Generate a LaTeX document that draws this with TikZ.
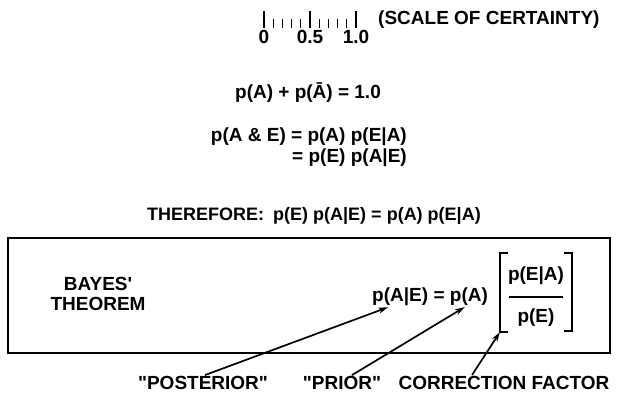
\documentclass[tikz,border=0pt]{standalone}
\usepackage{fontspec}
\setmainfont{Liberation Sans}
\usetikzlibrary{arrows.meta, positioning}

\begin{document}
\begin{tikzpicture}[x=1pt, y=-1pt,
	font=\fontsize{19}{20}\selectfont\bfseries,
	txt/.style={inner sep=1pt},
	raya/.style={line width=1.3pt},
	corchete/.style={line width=1.6pt},
	flecha/.style={line width=1.7pt, -{Stealth[length=10pt, width=6pt]}}]
	\useasboundingbox (0,0) rectangle (618,396);

	% escala de certeza
	\foreach \i in {0,...,10}{
		\coordinate (t\i) at (264+9.2*\i, 28);
	}
	\foreach \i in {1,2,3,4,6,7,8,9}{
		\draw[raya] (t\i) -- ++(0,-9);
	}
	\foreach \i/\lab in {0/0, 5/0.5, 10/1.0}{
		\draw[raya] (t\i) -- ++(0,-17);
		\node[txt, below=1pt of t\i] (l\i) {\lab};
	}
	\node[txt, anchor=west] (escala) at (377,20) {(SCALE OF CERTAINTY)};

	\node[txt] (suma) at (308,93) {p(A) + p(Ā) = 1.0};
	\node[txt, anchor=east] (conj) at (408,137) {p(A \& E) = p(A) p(E|A)};
	\node[txt, anchor=north east] (conj2) at (conj.south east) {= p(E) p(A|E)};

	\node[txt, font=\fontsize{18}{20}\selectfont\bfseries] (pues) at (314,216)
		{THEREFORE:\enspace p(E) p(A|E) = p(A) p(E|A)};

	\node[draw, line width=1.8pt, minimum width=602pt, minimum height=115pt]
		(caja) at (309,295.5) {};
	\node[txt, align=center] (bayes) at (98,294) {BAYES\textquotesingle\\THEOREM};

	\node[txt, anchor=west] (pae) at (371,297) {p(A|E)};
	\node[txt, right=3pt of pae] (pa) {= p(A)};
	\node[txt] (num) at (536,276) {p(E|A)};
	\node[txt] (den) at (536,318) {p(E)};
	\path (num) -- (den) coordinate[pos=.5] (barra);
	\draw[corchete] ([xshift=-27pt]barra) -- ([xshift=27pt]barra);
	\draw[corchete] (508,253) -- (500,253) -- (500,332) coordinate (lbrk) -- (508,332);
	\draw[corchete] (564,253) -- (572,253) -- (572,331) -- (564,331);

	\node[txt] (post) at (203,383) {\textquotedbl POSTERIOR\textquotedbl};
	\node[txt] (prior) at (342,383) {\textquotedbl PRIOR\textquotedbl};
	\node[txt] (corr) at (504,383) {CORRECTION FACTOR};

	\draw[flecha] ([xshift=2pt]post.north) -- ([xshift=-12pt]pae.south);
	\draw[flecha] ([xshift=10pt]prior.north) -- ([xshift=4pt]pa.south);
	\draw[flecha] ([xshift=-32pt]corr.north) -- (lbrk);
\end{tikzpicture}
\end{document}
